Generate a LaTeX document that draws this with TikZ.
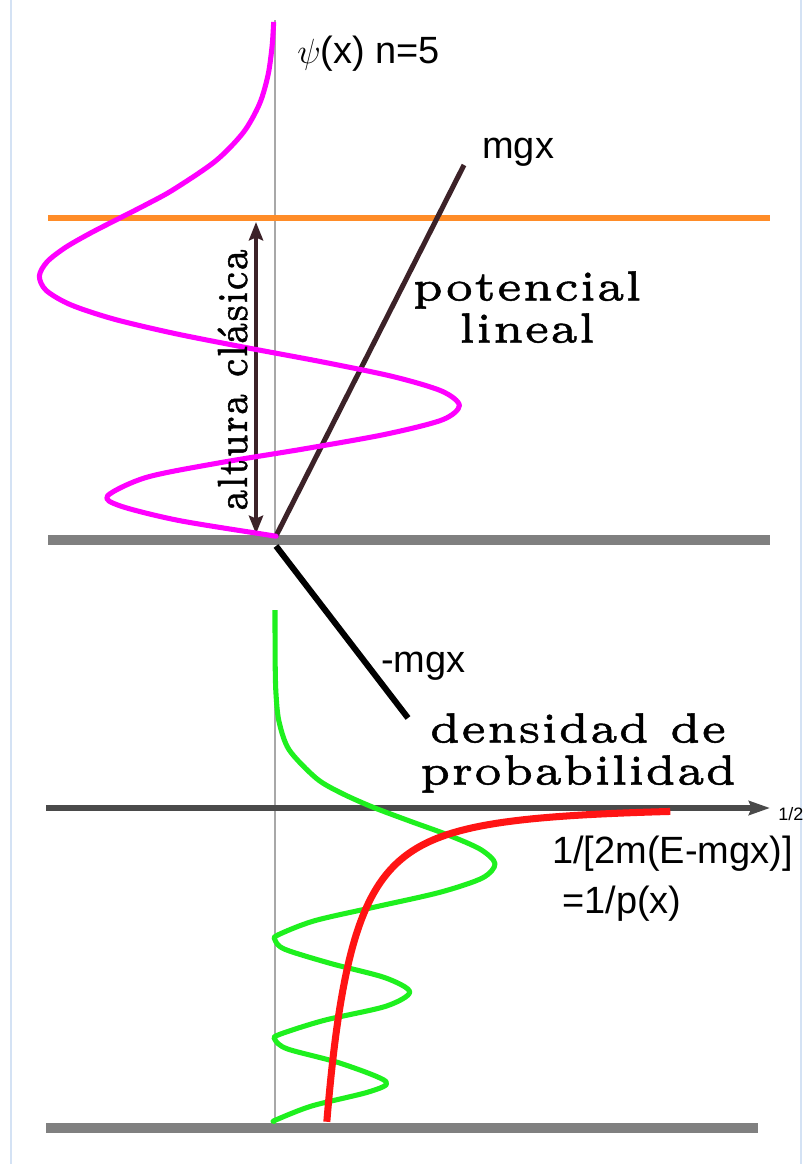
\documentclass[tikz,border=0pt]{standalone}
\usepackage{fontspec}
\usetikzlibrary{arrows.meta, positioning}
\newfontfamily\sansfont{Liberation Sans}
\newfontfamily\wideserif{lmroman5-regular.otf}[FakeBold=1.2]
\definecolor{Psi}{HTML}{FF00FF}
\definecolor{Level}{HTML}{FF8C28}
\definecolor{Floor}{HTML}{808080}
\definecolor{Axis}{HTML}{4A4A4A}
\definecolor{Thin}{HTML}{A8A8A8}
\definecolor{Ramp}{HTML}{3C2228}
\definecolor{Dens}{HTML}{1EF01E}
\definecolor{Classic}{HTML}{FF1414}
\definecolor{Frame}{HTML}{D4E2F4}

\begin{document}
\begin{tikzpicture}[
    x=0.025cm, y=-0.025cm,
    frame/.style={line width=2.1pt, draw=Frame},
    thinaxis/.style={line width=1.4pt, draw=Thin},
    level/.style={line width=3.6pt, draw=Level},
    floor/.style={line width=7.8pt, draw=Floor},
    axisarrow/.style={-{Stealth[length=15pt, width=10pt, inset=2pt]}, line width=4pt, draw=Axis},
    dblarrow/.style={{Stealth[length=13pt, width=10pt, inset=2pt]}-{Stealth[length=13pt, width=10pt, inset=2pt]}, line width=2.8pt, draw=Ramp},
    ramp/.style={line width=3.6pt},
    curve/.style={line width=3.6pt, line join=round},
    sanslabel/.style={font=\sansfont\fontsize{27}{32}\selectfont, inner sep=0pt},
    seriflabel/.style={font=\wideserif\fontsize{29.9}{29.9}\selectfont, inner sep=0pt, align=center}
]
\useasboundingbox (0,0) rectangle (806,1164);
\fill[white] (0,0) rectangle (806,1164);

% frame and axes
\draw[frame] (11,0) -- (11,1164);
\draw[frame] (801,0) -- (801,1164);
\draw[thinaxis] (275,20) -- (275,540);
\draw[thinaxis] (275,612) -- (275,1125);
\draw[level] (48,218) -- (770,218);
\draw[floor] (48,540) -- (770,540);
\draw[floor] (46,1128) -- (758,1128);
\draw[axisarrow] (46,808) -- (770,808);

% named points
\coordinate (Otop) at (276,536);
\coordinate (Obot) at (276,546);
\coordinate (rampend) at (464,165);
\coordinate (negend) at (408,718);
\coordinate (htop) at (256,222);
\coordinate (hbot) at (256,534);

% potentials
\draw[ramp, draw=Ramp] (Otop) -- (rampend);
\draw[ramp, line width=4.3pt, draw=black] (Obot) -- (negend);
\draw[dblarrow] (htop) -- (hbot);

% wave function, (Ai(-z), z)
\begin{scope}[shift={(275,218.56)}, xscale=-440, yscale=57.5]
\draw[curve, draw=Psi] plot[smooth] coordinates {
  (0.0030,-3.42) (0.00659,-3) (0.01573,-2.5) (0.03492,-2) (0.07175,-1.5)
  (0.13529,-1) (0.23169,-0.5) (0.29117,-0.25) (0.35503,0) (0.41873,0.25)
  (0.47573,0.5) (0.51778,0.75) (0.53556,1) (0.52005,1.25) (0.46425,1.5)
  (0.36549,1.75) (0.22741,2) (0.06160,2.25) (-0.11236,2.5) (-0.26940,2.75)
  (-0.37881,3) (-0.41902,3.25) (-0.38041,3.5) (-0.25210,3.75) (-0.07027,4)
  (0.12780,4.25) (0.29180,4.5) (0.38035,4.82) (0.35076,5) (0.21910,5.25)
  (0.01783,5.5) (0,5.5206)};
\end{scope}

% density, (Ai(-z)^2, z)
\begin{scope}[shift={(275,806.7)}, xscale=767, yscale=57]
\draw[curve, draw=Dens] plot[smooth] coordinates {
  (0,-3.45) (0.0000434,-3) (0.000247,-2.5) (0.001219,-2) (0.005148,-1.5)
  (0.018303,-1) (0.053680,-0.5) (0.084780,-0.25) (0.126046,0) (0.175335,0.25)
  (0.226319,0.5) (0.268096,0.75) (0.286824,1) (0.270452,1.25) (0.215528,1.5)
  (0.133583,1.75) (0.051715,2) (0.003795,2.25) (0,2.338) (0.012625,2.5)
  (0.072576,2.75) (0.143497,3) (0.175578,3.25) (0.144712,3.5) (0.063554,3.75)
  (0.004938,4) (0,4.088) (0.016333,4.25) (0.085147,4.5) (0.144666,4.82)
  (0.123033,5) (0.048005,5.25) (0.000318,5.5) (0,5.5206)};
\end{scope}

% classical density
\draw[curve, line width=5pt, draw=Classic] plot[smooth, domain=2.33:17.77, samples=120, variable=\u]
  ({275+921/\u},{806+\u*\u});

% labels
\node[sanslabel, anchor=base west] (psi) at (297,63) {$\psi$(x) n=5};
\node[sanslabel, anchor=base west] (mgx) at (482,158) {mgx};
\node[sanslabel, anchor=base west] (negmgx) at (381,672) {-mgx};
\node[sanslabel, anchor=base west] (inv) at (552,863) {1/[2m(E-mgx)]};
\node[sanslabel, anchor=base west] (invp) at (562,913) {=1/p(x)};
\node[font=\sansfont\fontsize{12.8}{14}\selectfont, inner sep=0pt, anchor=base west] (half) at (778,820) {1/2};
\node[seriflabel, anchor=north] (pot) at (527,271) {potencial\\lineal};
\node[seriflabel, anchor=north] (dens) at (578,713) {densidad de\\probabilidad};
\node[seriflabel, rotate=90, xscale=0.78, anchor=base] (alt) at (247,380) {altura clásica};
\end{tikzpicture}
\end{document}
